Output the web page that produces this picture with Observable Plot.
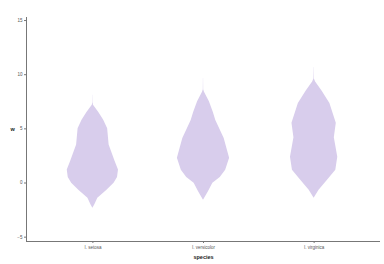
<!DOCTYPE html>
<html><head><meta charset="utf-8">
<script src="https://cdn.jsdelivr.net/npm/d3@7"></script>
<script src="https://cdn.jsdelivr.net/npm/@observablehq/plot@0.6"></script>
<style>
body{margin:0;background:#fff;font-family:"Liberation Sans",Arial,sans-serif;}
#wrap{position:relative;width:384px;height:264px;overflow:hidden;}
#legend{position:absolute;left:4px;top:1px;font-size:4.5px;color:#333;line-height:1;}
#legend .t{font-weight:bold;color:#000;margin-left:2px;}
#legend .row{display:flex;align-items:center;margin-top:3px;}
#legend .sw{width:4px;height:4px;margin-right:4px;}
#wrap svg{position:absolute;left:0;top:0;}
</style></head><body>
<div id="wrap"><div id="legend"></div></div>
<script>
const species = ["I. setosa", "I. versicolor", "I. virginica"];
const legendTitle = "s";
const seriesName = "Petal.Width";
const xTitle = "species";
const yTitle = "w";
const yTicks = [-5, 0, 5, 10, 15];

// violin profiles: value (y) and relative density (half width)
const setosaY = [8.1, 7.4, 7.17, 6.5, 5.8, 5.0, 3.5, 2.0, 1.2, 0.5, -0.03, -0.7, -1.4, -2.0, -2.34];
const setosaD = [0.08, 0.15, 0.6, 6, 11, 15, 16.5, 22.5, 26, 25, 21.5, 14, 5, 2, 0];
const versicolorY = [9.66, 8.6, 8.39, 7.5, 6.5, 5.78, 4.12, 2.28, 1.17, 0.5, -0.03, -0.8, -1.6];
const versicolorD = [0.08, 0.2, 1.0, 6, 10, 12.5, 21, 26.5, 22.5, 17, 9.5, 5, 0];
const virginicaY = [10.67, 9.6, 9.32, 8.5, 7.35, 5.51, 4.17, 2.37, 1.17, 0.3, -0.67, -1.41];
const virginicaD = [0.08, 0.25, 1.5, 8, 16, 22.5, 20.5, 24, 22, 14, 5, 0];

const fillColor = "#d8cdec";
const axisColor = "#777";
const maxHalf = 0.236;           // x units for the largest density
const densMax = 26.5;

const profiles = [[setosaY, setosaD], [versicolorY, versicolorD], [virginicaY, virginicaD]];
const rows = [];
profiles.forEach(([ys, ds], i) => {
  ys.forEach((y, k) => {
    const h = ds[k] / densMax * maxHalf;
    rows.push({species: species[i], y, x1: i - h, x2: i + h});
  });
});

const xDomain = [-0.6, 2.6];
const yDomain = [-5.4, 15.28];

const chart = Plot.plot({
  width: 384,
  height: 264,
  marginLeft: 26,
  marginRight: 4,
  marginTop: 17,
  marginBottom: 23,
  style: {fontSize: "4.5px", fontFamily: "Liberation Sans, Arial, sans-serif", color: "#333", background: "white"},
  x: {domain: xDomain, axis: null},
  y: {domain: yDomain, axis: null},
  marks: [
    Plot.areaX(rows, {y: "y", x1: "x1", x2: "x2", z: "species", fill: fillColor, curve: "linear"}),
    Plot.axisY(yTicks, {tickSize: 2, tickPadding: 2, stroke: axisColor, fill: "#555", label: null}),
    Plot.axisX([0, 1, 2], {tickSize: 2, tickPadding: 2, stroke: axisColor, fill: "#555", tickFormat: i => species[i], label: null}),
    Plot.ruleX([xDomain[0]], {stroke: axisColor, strokeWidth: 1}),
    Plot.ruleY([yDomain[0]], {stroke: axisColor, strokeWidth: 1}),
    Plot.text([xTitle], {frameAnchor: "bottom", dy: 17, fontSize: 5.5, fontWeight: "bold", fill: "#222"}),
    Plot.text([yTitle], {frameAnchor: "left", dx: -16, fontSize: 5.5, fontWeight: "bold", fill: "#222"})
  ]
});
const wrap = document.getElementById("wrap");
wrap.appendChild(chart);

const legend = document.getElementById("legend");
legend.innerHTML = `<div class="t">${legendTitle}</div><div class="row"><div class="sw" style="background:${fillColor}"></div><span>${seriesName}</span></div>`;
</script>
</body></html>
